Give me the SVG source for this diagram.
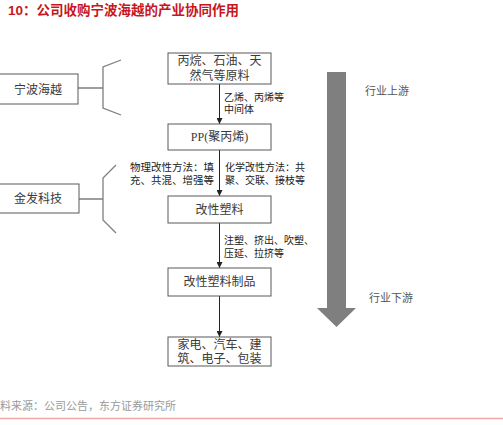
<svg xmlns="http://www.w3.org/2000/svg" width="503" height="425" viewBox="0 0 503 425">
<defs>
<style>
.box{fill:#fff;stroke:#595959;stroke-width:1}
.bt{font-family:"Liberation Serif","Noto Sans CJK SC",serif;font-size:12px;fill:#3a3a3a;text-anchor:middle}
.lb{font-family:"Liberation Sans","Noto Sans CJK SC",sans-serif;font-size:10px;fill:#222}
.br{fill:none;stroke:#7f7f7f;stroke-width:1.3}
.cn{fill:none;stroke:#222;stroke-width:1}
.side{font-family:"Liberation Sans","Noto Sans CJK SC",sans-serif;font-size:11px;fill:#555}
</style>
<marker id="ah" viewBox="0 0 8 8" refX="8" refY="4" markerWidth="6" markerHeight="6" orient="auto" markerUnits="userSpaceOnUse">
<path d="M0,0 L8,4 L0,8 Z" fill="#222"/>
</marker>
</defs>
<rect width="503" height="425" fill="#fff"/>
<text x="8" y="15" font-family="Liberation Sans,Noto Sans CJK SC,sans-serif" font-size="13.5" font-weight="bold" fill="#c8161d">10：公司收购宁波海越的产业协同作用</text>

<g id="connectors">
<line class="cn" x1="219.5" y1="84" x2="219.5" y2="124" marker-end="url(#ah)"/>
<line class="cn" x1="219.5" y1="150" x2="219.5" y2="196" marker-end="url(#ah)"/>
<line class="cn" x1="219.5" y1="223" x2="219.5" y2="268" marker-end="url(#ah)"/>
<line class="cn" x1="219.5" y1="296" x2="219.5" y2="337" marker-end="url(#ah)"/>
<path class="br" d="M78,88 H103 M121,60 L103,67 V108 L121,115"/>
<path class="br" d="M79,199 H103 M116,165 L103,178 V220 L116,233"/>
</g>

<g id="n-raw">
<rect class="box" x="168" y="53" width="103" height="31"/>
<text class="bt" x="219.5" y="65">丙烷、石油、天</text>
<text class="bt" x="219.5" y="80">然气等原料</text>
</g>
<g id="n-pp">
<rect class="box" x="168" y="124" width="103" height="26"/>
<text class="bt" x="219.5" y="141">PP(聚丙烯)</text>
</g>
<g id="n-mod">
<rect class="box" x="168" y="196" width="103" height="27"/>
<text class="bt" x="219.5" y="214">改性塑料</text>
</g>
<g id="n-prod">
<rect class="box" x="168" y="268" width="103" height="28"/>
<text class="bt" x="219.5" y="286">改性塑料制品</text>
</g>
<g id="n-app">
<rect class="box" x="168" y="337" width="103" height="29"/>
<text class="bt" x="219.5" y="349">家电、汽车、建</text>
<text class="bt" x="219.5" y="363">筑、电子、包装</text>
</g>
<g id="n-haiyue">
<rect class="box" x="-1" y="74" width="79" height="30"/>
<text class="bt" x="38" y="94">宁波海越</text>
</g>
<g id="n-jinfa">
<rect class="box" x="-1" y="184" width="80" height="29"/>
<text class="bt" x="38" y="203">金发科技</text>
</g>

<g id="labels">
<text class="lb" x="224" y="101">乙烯、丙烯等</text>
<text class="lb" x="224" y="113">中间体</text>
<text class="lb" x="130" y="171" style="font-size:10.5px">物理改性方法：填</text>
<text class="lb" x="130" y="184" style="font-size:10.5px">充、共混、增强等</text>
<text class="lb" x="225" y="171">化学改性方法：共</text>
<text class="lb" x="225" y="184">聚、交联、接枝等</text>
<text class="lb" x="224" y="244">注塑、挤出、吹塑、</text>
<text class="lb" x="224" y="257">压延、拉挤等</text>
</g>

<g id="flow-arrow">
<polygon points="327,72 346,72 346,308 356,308 336.5,327 317,308 327,308" fill="#7f7f7f"/>
<text class="side" x="365" y="95">行业上游</text>
<text class="side" x="369" y="302">行业下游</text>
</g>

<text x="0" y="410" font-family="Liberation Sans,Noto Sans CJK SC,sans-serif" font-size="11" fill="#9a9a9a">料来源：公司公告，东方证券研究所</text>
<line x1="0" y1="418.5" x2="503" y2="418.5" stroke="#f2a7a7" stroke-width="1.5"/>
</svg>
